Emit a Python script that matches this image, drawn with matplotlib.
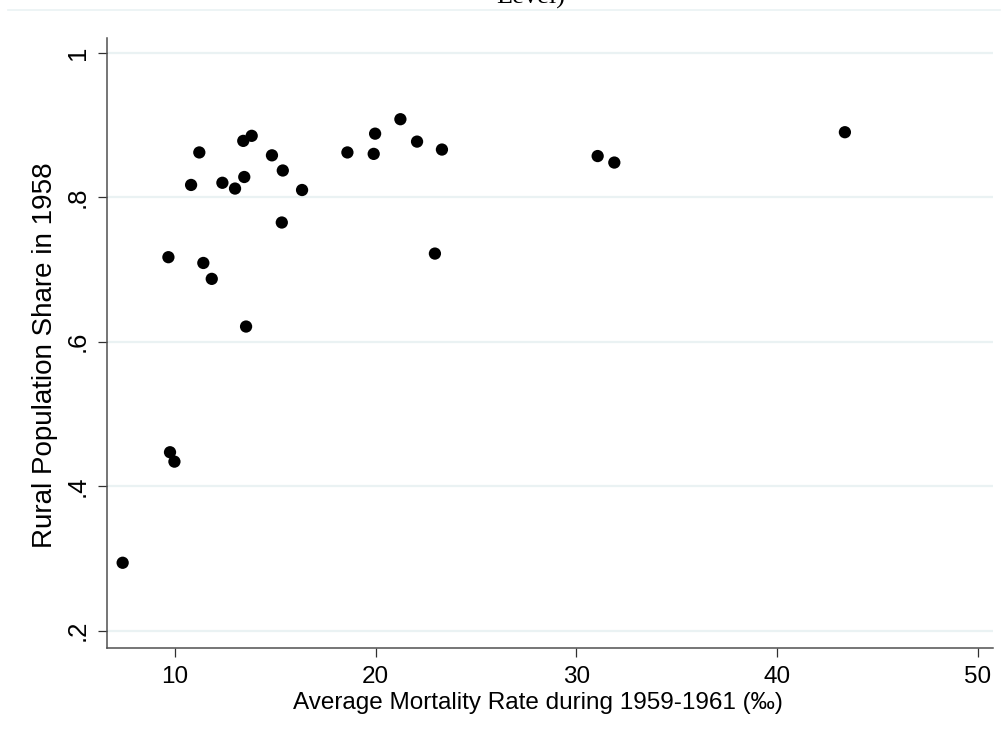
import matplotlib
matplotlib.use("Agg")
import matplotlib.pyplot as plt
from matplotlib.lines import Line2D

mortality = [7.39, 9.67, 9.75, 9.97, 10.80, 11.21, 11.41, 11.83, 12.36, 12.99,
             13.40, 13.82, 13.45, 13.54, 14.83, 15.37, 15.32, 16.33, 18.59, 19.97,
             19.90, 21.23, 22.06, 23.30, 22.95, 31.06, 31.89, 43.38]
rural_share = [0.294, 0.717, 0.447, 0.434, 0.817, 0.862, 0.709, 0.687, 0.820, 0.812,
               0.878, 0.885, 0.828, 0.621, 0.858, 0.837, 0.765, 0.810, 0.862, 0.888,
               0.860, 0.908, 0.877, 0.866, 0.722, 0.857, 0.848, 0.890]

x_ticks = [10, 20, 30, 40, 50]
y_ticks = [0.2, 0.4, 0.6, 0.8, 1.0]
y_tick_labels = [".2", ".4", ".6", ".8", "1"]

plt.rcParams['font.family'] = ['Liberation Sans', 'DejaVu Sans']

fig = plt.figure(figsize=(10.07, 7.40), dpi=100)
ax = fig.add_axes([107/1007, 1-648.3/740, (993-107)/1007, (648.3-38.3)/740])

ax.scatter(mortality, rural_share, s=78, color='black', edgecolors='none', zorder=3)

ax.set_xlim(6.61, 50.76)
ax.set_ylim(0.1756, 1.02)
ax.set_xticks(x_ticks)
ax.set_yticks(y_ticks)
ax.set_yticklabels(y_tick_labels, rotation=90, va='center')
ax.grid(axis='y', color='#eaf2f3', linewidth=1.6, zorder=0)
ax.grid(axis='x', visible=False)
ax.set_axisbelow(True)

for s in ['top', 'right']:
    ax.spines[s].set_visible(False)
for s in ['left', 'bottom']:
    ax.spines[s].set_color('#505050')
    ax.spines[s].set_linewidth(1.1)

ax.tick_params(axis='both', direction='out', length=6.5, width=0.9, color='#303030')
ax.tick_params(axis='x', labelsize=17.5, pad=6)
ax.tick_params(axis='y', labelsize=18.5, pad=6)

ax.set_xlabel("Average Mortality Rate during 1959-1961 (‰)", fontsize=17.5)
ax.xaxis.set_label_coords(0.4865, -0.072)
ax.set_ylabel("Rural Population Share in 1958", fontsize=20)
ax.yaxis.set_label_coords(-0.055, 0.48)

# cropped title fragment and top border line
fig.text(0.527, 1.003, "Level)", fontsize=19, family=['Liberation Serif', 'DejaVu Serif'],
         ha='center', va='center')
fig.add_artist(Line2D([8/1007, 1000/1007], [1-10.3/740, 1-10.3/740],
                      color='#eaf2f3', linewidth=1.2, transform=fig.transFigure))

fig.savefig("out.png", dpi=100)
